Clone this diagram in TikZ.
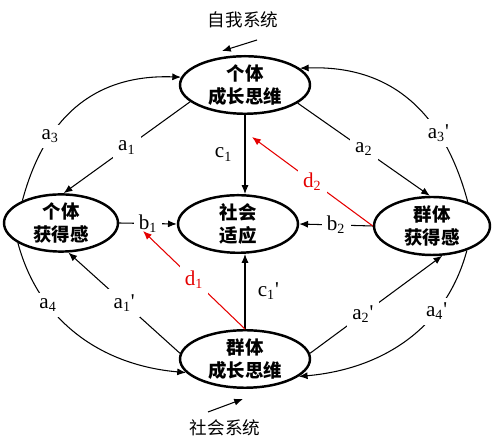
\documentclass[tikz,border=0pt]{standalone}
\usepackage{fontspec}
\setmainfont{Liberation Serif}
\newfontfamily\cjk{Noto Sans CJK SC}
\usetikzlibrary{shapes.geometric,arrows.meta}

\begin{document}
\begin{tikzpicture}[x=0.02cm,y=0.02cm,
		state/.style={ellipse,draw,line width=1.4pt,inner sep=0pt,align=center,font=\cjk\bfseries\fontsize{10.5}{13}\selectfont},
		link/.style={-{Latex[length=5pt,width=4pt]},line width=0.6pt},
		redlink/.style={link,red!90!black},
		lab/.style={fill=white,inner sep=3pt,font=\fontsize{12}{14}\selectfont}]
	\useasboundingbox (0,0) rectangle (500,442);
	% the five ellipses
	\node[state,minimum width=2.6cm,minimum height=1.08cm] (gm) at (245,357) {个体\\成长思维};
	\node[state,minimum width=2.28cm,minimum height=1.12cm] (ig) at (61,219) {个体\\获得感};
	\node[state,minimum width=2.4cm,minimum height=1.12cm] (sa) at (238,218) {社会\\适应};
	\node[state,minimum width=2.32cm,minimum height=1.16cm] (gg) at (432,216) {群体\\获得感};
	\node[state,minimum width=2.6cm,minimum height=0.96cm] (gr) at (245,83) {群体\\成长思维};
	% systems
	\node[font=\cjk\fontsize{10}{12}\selectfont] (self) at (243,422) {自我系统};
	\node[font=\cjk\fontsize{10}{12}\selectfont] (soc) at (225,14) {社会系统};
	\coordinate (selfa) at (257,402);
	\coordinate (selfb) at (222,391);
	\coordinate (soca) at (208,30);
	\coordinate (socb) at (243,43);
	\coordinate (d2end) at (252,305);
	\coordinate (d1end) at (143,211);
	\draw[link] (selfa)--(selfb);
	\draw[link] (soca)--(socb);
	% paths a
	\draw[link] (gm.197)--(ig.85) node[lab,midway] {a\textsubscript{1}};
	\draw[link] (gm.341)--(gg.94) node[lab,midway] {a\textsubscript{2}};
	\draw[link] (ig.150) to[out=75,in=178,looseness=1.1] node[lab,pos=0.3] {a\textsubscript{3}} (gm.173);
	\draw[link] (gg.34) to[out=105,in=2,looseness=1.1] node[lab,pos=0.3] {a\textsubscript{3}\textquotesingle} (gm.17);
	\draw[link] (gr.175)--(ig.284) node[lab,midway] {a\textsubscript{1}\textquotesingle};
	\draw[link] (gr.5)--(gg.289) node[lab,pos=0.4] {a\textsubscript{2}\textquotesingle};
	\draw[link] (ig.205) to[out=-75,in=175] node[lab,pos=0.3] {a\textsubscript{4}} (gr.193);
	\draw[link] (gg.325) to[out=-105,in=5] node[lab,pos=0.3] {a\textsubscript{4}\textquotesingle} (gr.342);
	% paths b and c
	\draw[link] (ig.east)--(sa.west) node[lab,midway] {b\textsubscript{1}};
	\draw[link] (gg.west)--(sa.east) node[lab,midway] {b\textsubscript{2}};
	\draw[link] (gm.south)--(gm.south |- sa.north) node[lab,midway,left=4pt,fill=none] {c\textsubscript{1}};
	\draw[link] (gr.north)--(gr.north |- sa.south) node[lab,midway,right=4pt,fill=none] {c\textsubscript{1}\textquotesingle};
	% paths d
	\draw[redlink] (gg.west)--(d2end) node[lab,midway] {d\textsubscript{2}};
	\draw[redlink] (gr.north)--(d1end) node[lab,midway] {d\textsubscript{1}};
\end{tikzpicture}
\end{document}
